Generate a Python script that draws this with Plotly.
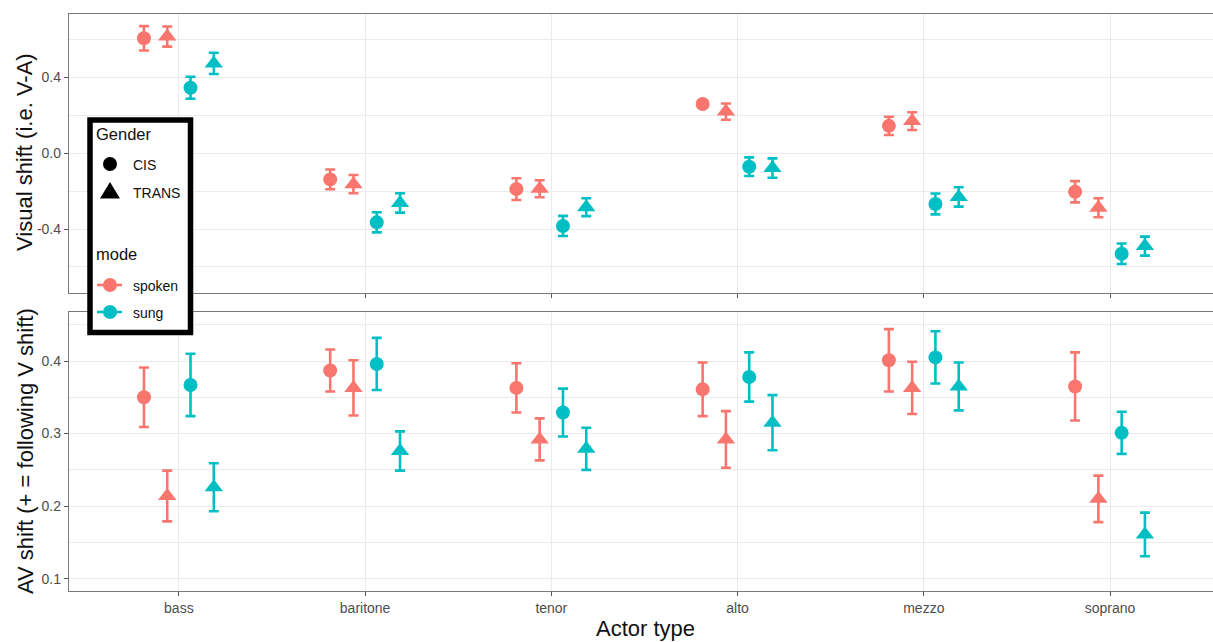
import plotly.graph_objects as go

# ---------------- data ----------------
categories = ["bass", "baritone", "tenor", "alto", "mezzo", "soprano"]
modes = ["spoken", "sung"]
genders = ["CIS", "TRANS"]

# Visual shift (i.e. V-A): estimate and error half-width per actor type
vis_spoken_cis = [0.604, -0.139, -0.190, 0.258, 0.143, -0.204]
vis_spoken_cis_err = [0.064, 0.052, 0.057, 0.020, 0.048, 0.056]
vis_spoken_trans = [0.613, -0.164, -0.188, 0.218, 0.168, -0.288]
vis_spoken_trans_err = [0.053, 0.048, 0.045, 0.043, 0.047, 0.050]
vis_sung_cis = [0.344, -0.365, -0.384, -0.072, -0.268, -0.530]
vis_sung_cis_err = [0.058, 0.053, 0.053, 0.049, 0.055, 0.054]
vis_sung_trans = [0.472, -0.263, -0.285, -0.079, -0.231, -0.490]
vis_sung_trans_err = [0.056, 0.051, 0.047, 0.051, 0.051, 0.050]

# AV shift (+ = following V shift)
av_spoken_cis = [0.350, 0.387, 0.363, 0.361, 0.401, 0.365]
av_spoken_cis_err = [0.041, 0.029, 0.034, 0.037, 0.043, 0.047]
av_spoken_trans = [0.214, 0.363, 0.292, 0.292, 0.363, 0.210]
av_spoken_trans_err = [0.035, 0.038, 0.029, 0.039, 0.036, 0.032]
av_sung_cis = [0.367, 0.396, 0.329, 0.378, 0.405, 0.301]
av_sung_cis_err = [0.043, 0.036, 0.033, 0.034, 0.036, 0.029]
av_sung_trans = [0.226, 0.276, 0.279, 0.315, 0.365, 0.161]
av_sung_trans_err = [0.033, 0.027, 0.029, 0.038, 0.033, 0.030]

vis_tick_vals = [-0.4, 0.0, 0.4]
vis_tick_text = ["-0.4", "0.0", "0.4"]
vis_minor_vals = [-0.6, -0.2, 0.2, 0.6]
av_tick_vals = [0.1, 0.2, 0.3, 0.4]
av_tick_text = ["0.1", "0.2", "0.3", "0.4"]
av_minor_vals = [0.15, 0.25, 0.35, 0.45]

# ---------------- styling ----------------
mode_colors = {"spoken": "#F8766D", "sung": "#00BFC4"}
gender_symbols = {"CIS": "circle", "TRANS": "triangle-up"}
gender_sizes = {"CIS": 14, "TRANS": 16}
FONT = "Liberation Sans, Arial, sans-serif"
GRID = "#EBEBEB"
BORDER = "#7A7A7A"

W, H = 1213, 642
ML, MR, MT, MB = 69, 0, 14, 51
PW, PH = W - ML - MR, H - MT - MB


def px_x(px):
    return (px - ML) / PW


def px_y(py):
    return (H - MB - py) / PH


panels = [
    ("x", "y", {
        ("spoken", "CIS"): (vis_spoken_cis, vis_spoken_cis_err),
        ("spoken", "TRANS"): (vis_spoken_trans, vis_spoken_trans_err),
        ("sung", "CIS"): (vis_sung_cis, vis_sung_cis_err),
        ("sung", "TRANS"): (vis_sung_trans, vis_sung_trans_err),
    }),
    ("x2", "y2", {
        ("spoken", "CIS"): (av_spoken_cis, av_spoken_cis_err),
        ("spoken", "TRANS"): (av_spoken_trans, av_spoken_trans_err),
        ("sung", "CIS"): (av_sung_cis, av_sung_cis_err),
        ("sung", "TRANS"): (av_sung_trans, av_sung_trans_err),
    }),
]

# position_dodge(width = 0.5) across the four mode x gender groups
dodge_width = 0.5
groups = [(m, g) for m in modes for g in genders]
n_groups = len(groups)
positions = list(range(1, len(categories) + 1))

fig = go.Figure()
for xa, ya, series in panels:
    for i, (m, g) in enumerate(groups):
        vals, errs = series[(m, g)]
        offset = (i - (n_groups - 1) / 2) * dodge_width / n_groups
        fig.add_trace(go.Scatter(
            x=[p + offset for p in positions],
            y=vals,
            xaxis=xa, yaxis=ya,
            mode="markers",
            marker=dict(symbol=gender_symbols[g], size=gender_sizes[g],
                        color=mode_colors[m], line=dict(width=0)),
            error_y=dict(type="data", array=errs, color=mode_colors[m],
                         thickness=2.6, width=5),
            name=f"{m} {g}",
            showlegend=False,
        ))

x_range = [0.41, 6.553]
axis_common = dict(
    showline=True, linecolor=BORDER, linewidth=1.4, mirror=True,
    ticks="outside", ticklen=4, tickwidth=1, tickcolor="#555555",
    tickfont=dict(family=FONT, size=14, color="#4D4D4D"),
    gridcolor=GRID, gridwidth=1.2, zeroline=False,
)

top_dom = [px_y(293), 1.0]
bot_dom = [0.0, px_y(312)]

fig.update_layout(
    width=W, height=H,
    margin=dict(l=ML, r=MR, t=MT, b=MB),
    paper_bgcolor="white", plot_bgcolor="white",
    showlegend=False,
    xaxis=dict(domain=[0, 1], anchor="y", range=x_range, tickmode="array",
               tickvals=positions, ticktext=categories, showticklabels=False,
               **axis_common),
    yaxis=dict(domain=top_dom, anchor="x", range=[-0.737, 0.732],
               tickmode="array", tickvals=vis_tick_vals, ticktext=vis_tick_text,
               minor=dict(tickmode="array", tickvals=vis_minor_vals, showgrid=True,
                          gridcolor=GRID, gridwidth=1.0, ticks=""),
               **axis_common),
    xaxis2=dict(domain=[0, 1], anchor="y2", range=x_range, tickmode="array",
                tickvals=positions, ticktext=categories, **axis_common),
    yaxis2=dict(domain=bot_dom, anchor="x2", range=[0.083, 0.4676],
                tickmode="array", tickvals=av_tick_vals, ticktext=av_tick_text,
                minor=dict(tickmode="array", tickvals=av_minor_vals, showgrid=True,
                           gridcolor=GRID, gridwidth=1.0, ticks=""),
                **axis_common),
)

# axis titles
title_font = dict(family=FONT, size=22, color="#111111")
fig.add_annotation(text="Visual shift (i.e. V-A)", xref="paper", yref="paper",
                   x=px_x(24), y=px_y(152), textangle=-90, showarrow=False,
                   xanchor="center", yanchor="middle", font=title_font)
fig.add_annotation(text="AV shift (+ = following V shift)", xref="paper", yref="paper",
                   x=px_x(25), y=px_y(451), textangle=-90, showarrow=False,
                   xanchor="center", yanchor="middle", font=title_font)
fig.add_annotation(text="Actor type", xref="paper", yref="paper",
                   x=px_x(645), y=px_y(629), showarrow=False,
                   xanchor="center", yanchor="middle", font=title_font)

# legend box with Gender (shape) and mode (colour) keys
fig.add_shape(type="rect", xref="paper", yref="paper",
              x0=px_x(90), x1=px_x(190.5), y0=px_y(120), y1=px_y(332.5),
              line=dict(color="black", width=5.5), fillcolor="white", layer="above")

legend_title_font = dict(family=FONT, size=16.5, color="#111111")
legend_text_font = dict(family=FONT, size=14, color="#111111")
key_x = 110
text_x = 131

fig.add_annotation(text="Gender", xref="paper", yref="paper", x=px_x(94), y=px_y(134),
                   showarrow=False, xanchor="left", yanchor="middle", font=legend_title_font)
fig.add_annotation(text="mode", xref="paper", yref="paper", x=px_x(94), y=px_y(254),
                   showarrow=False, xanchor="left", yanchor="middle", font=legend_title_font)

gender_key_y = {"CIS": 164, "TRANS": 192}
mode_key_y = {"spoken": 285, "sung": 312}

for g in genders:
    yk = gender_key_y[g]
    if g == "CIS":
        fig.add_shape(type="circle", xref="paper", yref="paper",
                      xsizemode="pixel", ysizemode="pixel",
                      xanchor=px_x(key_x), yanchor=px_y(yk),
                      x0=-7, x1=7, y0=-7, y1=7,
                      fillcolor="black", line=dict(width=0), layer="above")
    else:
        fig.add_shape(type="path", xref="paper", yref="paper",
                      xsizemode="pixel", ysizemode="pixel",
                      xanchor=px_x(key_x), yanchor=px_y(yk),
                      path="M -10,-6.5 L 10,-6.5 L 0,10 Z",
                      fillcolor="black", line=dict(width=0), layer="above")
    fig.add_annotation(text=g, xref="paper", yref="paper", x=px_x(text_x), y=px_y(yk + 1),
                       showarrow=False, xanchor="left", yanchor="middle", font=legend_text_font)

for m in modes:
    yk = mode_key_y[m]
    fig.add_shape(type="line", xref="paper", yref="paper",
                  x0=px_x(97), x1=px_x(122), y0=px_y(yk), y1=px_y(yk),
                  line=dict(color=mode_colors[m], width=2.6), layer="above")
    fig.add_shape(type="circle", xref="paper", yref="paper",
                  xsizemode="pixel", ysizemode="pixel",
                  xanchor=px_x(key_x), yanchor=px_y(yk),
                  x0=-7, x1=7, y0=-7, y1=7,
                  fillcolor=mode_colors[m], line=dict(width=0), layer="above")
    fig.add_annotation(text=m, xref="paper", yref="paper", x=px_x(text_x), y=px_y(yk + 1),
                       showarrow=False, xanchor="left", yanchor="middle", font=legend_text_font)

fig.write_html("out.html")
